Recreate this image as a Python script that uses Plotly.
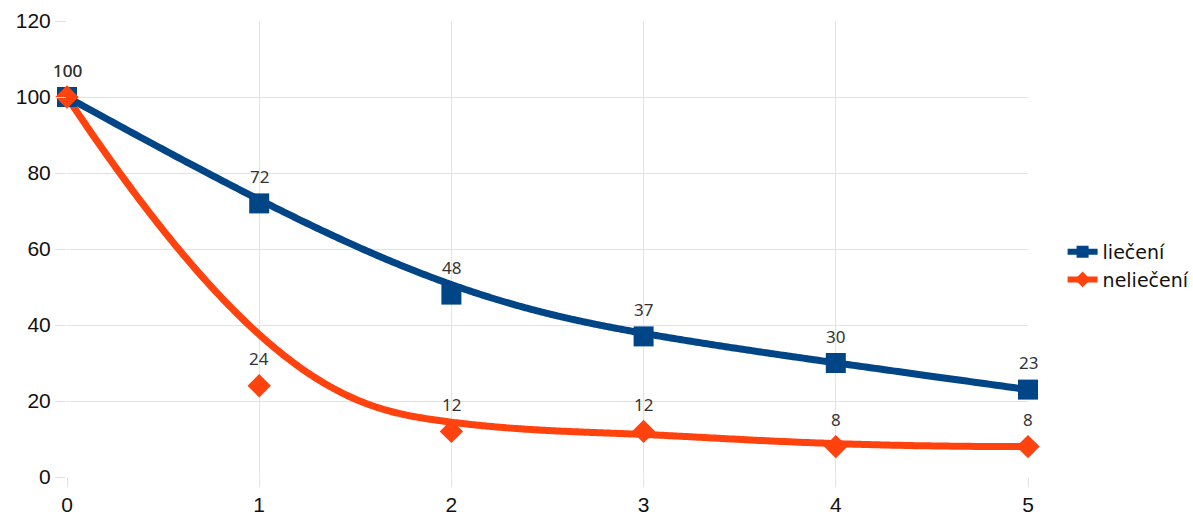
import numpy as np
import plotly.graph_objects as go

x_vals = [0, 1, 2, 3, 4, 5]
liecene = [100, 72, 48, 37, 30, 23]
nelicene = [100, 24, 12, 12, 8, 8]
names = ["liečení", "neliečení"]
colors = ["#004586", "#ff420e"]


def bspline(px, py, degree=3, n=400):
    cp = np.column_stack([px, py]).astype(float)
    k = len(cp)
    inner = np.arange(1, k - degree)
    knots = np.concatenate([np.zeros(degree + 1), inner, np.full(degree + 1, k - degree)]).astype(float)
    ts = np.linspace(0, k - degree, n)
    out = []
    for t in ts:
        if t >= knots[-degree - 1]:
            s = k - 1
        else:
            s = np.searchsorted(knots, t, side="right") - 1
        d = [cp[j + s - degree].copy() for j in range(degree + 1)]
        for r in range(1, degree + 1):
            for j in range(degree, r - 1, -1):
                i = j + s - degree
                denom = knots[i + degree - r + 1] - knots[i]
                a = 0 if denom == 0 else (t - knots[i]) / denom
                d[j] = (1 - a) * d[j - 1] + a * d[j]
        out.append(d[degree])
    out = np.array(out)
    return out[:, 0], out[:, 1]


fig = go.Figure()
series = [liecene, nelicene]
symbols = ["square", "diamond"]
msizes = [20, 18]
for vals, name, col in zip(series, names, colors):
    bx, by = bspline(x_vals, vals)
    fig.add_trace(go.Scatter(x=bx, y=by, mode="lines",
                             line=dict(color=col, width=7, simplify=False),
                             showlegend=False, hoverinfo="skip"))
for vals, name, col, sym, ms in zip(series, names, colors, symbols, msizes):
    fig.add_trace(go.Scatter(x=x_vals, y=vals, mode="markers",
                             marker=dict(symbol=sym, size=ms, color=col), showlegend=False,
                             cliponaxis=False))
    for xv, yv in zip(x_vals, vals):
        fig.add_annotation(x=xv, y=yv, text=str(yv), showarrow=False, yshift=27,
                           font=dict(family="Noto Sans", size=17, color="#333333"))
for name, col, sym in zip(names, colors, symbols):
    fig.add_trace(go.Scatter(x=[None], y=[None], mode="lines+markers", name=name,
                             line=dict(color=col, width=6), marker=dict(symbol=sym, size=12, color=col)))

fig.update_layout(
    width=1193, height=516,
    margin=dict(l=67, r=165, t=21, b=39, autoexpand=False),
    paper_bgcolor="white", plot_bgcolor="white",
    showlegend=True,
    legend=dict(x=1.036, y=0.463, yanchor="middle", xanchor="left",
                font=dict(family="DejaVu Sans", size=19, color="#111111"),
                itemwidth=30, tracegroupgap=0),
    xaxis=dict(range=[0, 5], dtick=1, showgrid=True, gridcolor="#e3e3e3", zeroline=False,
               ticks="outside", ticklen=9, tickcolor="#e3e3e3", automargin=False,
               tickfont=dict(family="Liberation Sans", size=21, color="#111111")),
    yaxis=dict(range=[0, 120], dtick=20, showgrid=True, gridcolor="#e3e3e3", zeroline=False,
               ticks="outside", ticklen=11, tickcolor="#e3e3e3", automargin=False,
               tickfont=dict(family="Liberation Sans", size=21, color="#111111")),
)
fig.write_html("out.html", config={"displayModeBar": False},
               post_script="document.body.style.margin='0px';")
